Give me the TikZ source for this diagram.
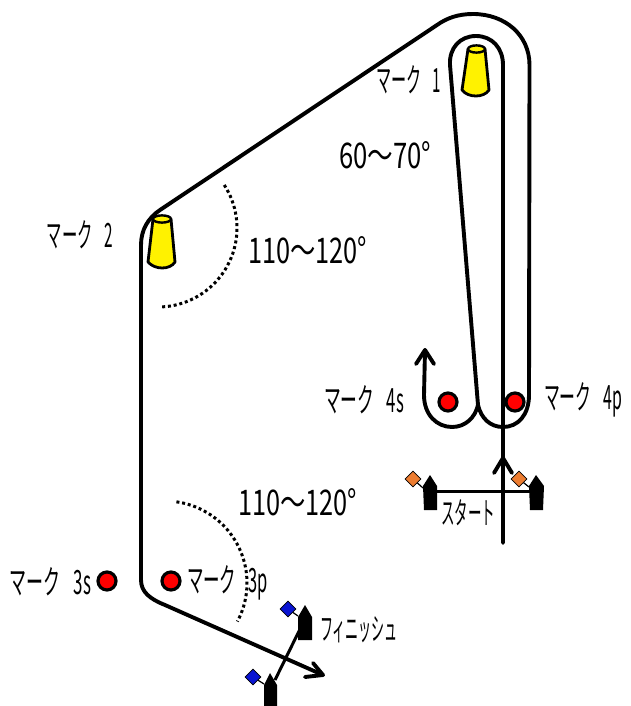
\documentclass[tikz,border=0pt]{standalone}
\usepackage{fontspec}
\usepackage{graphicx}
\newfontfamily\jp{Noto Sans CJK JP}
\newcommand\fitlab[3]{\resizebox{#1pt}{#2pt}{\jp #3}}
\newcommand\gapp{\hspace{.75em}}
\definecolor{flagorange}{RGB}{237,125,49}
\definecolor{flagblue}{RGB}{10,20,210}
\begin{document}
\begin{tikzpicture}[x=1pt,y=-1pt,
  course/.style={line width=3.9pt,line join=round,line cap=round},
  buoy/.style={circle,draw=black,line width=3.2pt,fill=red,minimum size=18pt,inner sep=0pt},
  boat/.style={fill=black},
  flagO/.style={rectangle,rotate=45,draw=black,line width=0.7pt,inner sep=0pt,minimum size=11pt},
  dotline/.style={line width=3pt,dash pattern=on 3pt off 2.8pt},
  lab/.style={inner sep=0pt,anchor=center}]
\useasboundingbox (0,0) rectangle (630,706);
\fill[white] (0,0) rectangle (630,706);
% course
\draw[course] (425,350) -- (424,395) .. controls (424,415) and (437,427) .. (452,427)
  .. controls (465,427) and (475,418) .. (478,405)
  .. controls (481,418) and (490,427) .. (503,427)
  .. controls (518,427) and (529,415) .. (529,395) -- (529.5,65)
  .. controls (529.5,35) and (505,14) .. (473,14)
  .. controls (458,14) and (447,18) .. (437,25) -- (160,210)
  .. controls (148,218) and (141,230) .. (141,245) -- (141,580)
  .. controls (141,592) and (150,599) .. (165,605) -- (323,675);
\draw[course] (478,405) -- (450,65) .. controls (449,48) and (460,36) .. (476,36)
  .. controls (492,36) and (503,48) .. (503,65) -- (503,543);
\draw[course] (416,364) -- (425,350) -- (434,364);
\draw[course] (494,473) -- (503,458) -- (512,473);
\draw[course] (313,663) -- (323,675) -- (305,677);
% cones
\draw[line width=2.8pt,line join=round,fill=yellow] (468,49) -- (462,90) .. controls (468,98) and (484,98) .. (489,90) -- (485,49) -- cycle;
\draw[line width=2.4pt,fill=yellow] (476.5,49) ellipse [x radius=8.5,y radius=3.6];
\draw[line width=2.8pt,line join=round,fill=yellow] (153,219) -- (148,262) .. controls (155,270) and (170,270) .. (175,262) -- (171,219) -- cycle;
\draw[line width=2.4pt,fill=yellow] (162,219) ellipse [x radius=9,y radius=3.6];
% marks
\node[buoy] (m4s) at (448,402) {};
\node[buoy] (m4p) at (515,402) {};
\node[buoy] (m3s) at (107,581) {};
\node[buoy] (m3p) at (171,581) {};
% angle arcs
\draw[dotline] plot[domain=-33:87,samples=40] ({158+79*cos(\x)},{228+79*sin(\x)});
\draw[dotline] plot[domain=-82:28,samples=40] ({165+82*cos(\x)},{583+82*sin(\x)});
% start line
\fill[boat] (430,475) -- (437,486) -- (437,510) -- (424,510) -- (423,486) -- cycle;
\coordinate (sl) at (430,491);
\fill[boat] (536,475) -- (544,486) -- (543,510) -- (530,510) -- (529,486) -- cycle;
\coordinate (sr) at (536,491);
\draw[line width=3pt] (sl) -- (sr);
\coordinate (pl) at (423,488);
\coordinate (pr) at (529,487);
\node[flagO,fill=flagorange] (fl) at (413,479) {};
\node[flagO,fill=flagorange] (fr) at (519,479) {};
\draw[line width=1.2pt] (fl) -- (pl);
\draw[line width=1.2pt] (fr) -- (pr);
% finish line
\fill[boat] (305,605) -- (312,617) -- (312,640) -- (298,640) -- (298,617) -- cycle;
\fill[boat] (270,673) -- (277,685) -- (277,706) -- (264,706) -- (264,685) -- cycle;
\coordinate (bu) at (302,625);
\coordinate (bl) at (275,680);
\draw[line width=3pt] (bu) -- (bl);
\coordinate (qu) at (298,616);
\coordinate (ql) at (264,684);
\node[flagO,fill=flagblue] (gu) at (288,609) {};
\node[flagO,fill=flagblue] (gl) at (253,677) {};
\draw[line width=1.2pt] (gu) -- (qu);
\draw[line width=1.2pt] (gl) -- (ql);
% labels
\node[lab] (l1) at (408.5,80) {\fitlab{65}{27}{マーク\gapp 1}};
\node[lab] (l60) at (385,155) {\fitlab{92}{27}{60～70°}};
\node[lab] (l2) at (80,235) {\fitlab{66}{27}{マーク\gapp 2}};
\node[lab] (l110a) at (307.5,250) {\fitlab{119}{27}{110～120°}};
\node[lab] (l4s) at (364,400) {\fitlab{80}{27}{マーク\gapp 4s}};
\node[lab] (l4p) at (583,400) {\fitlab{78}{27}{マーク\gapp 4p}};
\node[lab] (l110b) at (297.5,502) {\fitlab{119}{27}{110～120°}};
\node[lab] (l3s) at (50.5,582) {\fitlab{81}{27}{マーク\gapp 3s}};
\node[lab] (l3p) at (227.5,583) {\fitlab{81}{27}{マーク\gapp 3p}};
\node[lab] (lst) at (468,513) {\fitlab{54}{25}{スタート}};
\node[lab] (lfi) at (359,629.5) {\fitlab{78}{24}{フィニッシュ}};
\end{tikzpicture}
\end{document}
